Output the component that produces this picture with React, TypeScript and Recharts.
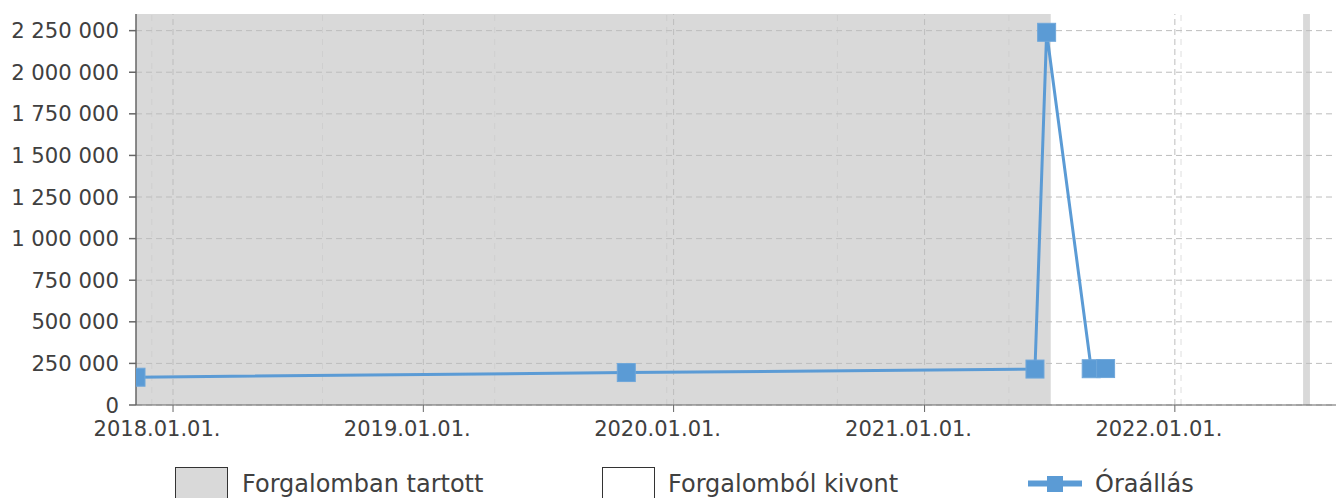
import React from "react";
import {
  Line,
  LineChart,
  ReferenceArea,
  ReferenceLine,
  XAxis,
  YAxis,
} from "recharts";

// meter readings (date, value)
const readingDates = [
  "2017-11-08",
  "2019-10-24",
  "2021-06-11",
  "2021-06-28",
  "2021-09-01",
  "2021-09-22",
];
const readingValues = [167000, 195000, 216000, 2240000, 218000, 219000];

// periods the vehicle was in service (grey bands)
const inServiceStarts = ["2017-11-08", "2022-07-07"];
const inServiceEnds = ["2021-07-04", "2022-07-17"];

const yearTicks = [
  "2018-01-01",
  "2019-01-01",
  "2020-01-01",
  "2021-01-01",
  "2022-01-01",
];
const minorGridDates = [
  "2017-12-01",
  "2018-08-07",
  "2019-04-15",
  "2019-12-22",
  "2020-08-27",
  "2021-05-04",
  "2022-01-10",
];
const valueTicks = [
  0, 250000, 500000, 750000, 1000000, 1250000, 1500000, 1750000, 2000000,
  2250000,
];
const xStart = "2017-11-08";
const xEnd = "2022-08-24";
const yMax = 2350000;

const toTs = (d: string) => {
  const [y, m, day] = d.split("-").map(Number);
  return Date.UTC(y, m - 1, day);
};

const data = readingDates.map((d, i) => ({ t: toTs(d), value: readingValues[i] }));

const pad = (n: number) => String(n).padStart(2, "0");
const fmtDate = (ts: number) => {
  const d = new Date(ts);
  return `${d.getUTCFullYear()}.${pad(d.getUTCMonth() + 1)}.${pad(d.getUTCDate())}.`;
};
const fmtNum = (n: number) => String(n).replace(/\B(?=(\d{3})+(?!\d))/g, " ");

const BLUE = "#5b9bd5";
const GREY = "#d9d9d9";
const TEXT = "#404040";
const GRID = "#bdbdbd";
const FONT = "'DejaVu Sans', sans-serif";

const SquareDot = (props: any) => {
  const { cx, cy, index } = props;
  if (cx == null || cy == null) return <g key={`d${index}`} />;
  return (
    <rect
      key={`d${index}`}
      x={cx - 9}
      y={cy - 9}
      width={18}
      height={18}
      fill={BLUE}
      stroke="#6fa7da"
      strokeWidth={1}
    />
  );
};

// date labels sit a little left of their tick, like the original
const DateTick = (props: any) => {
  const { x, y, payload } = props;
  return (
    <text
      x={x - 16}
      y={y}
      dy="0.71em"
      textAnchor="middle"
      fill={TEXT}
      fontSize={21}
      fontFamily={FONT}
    >
      {fmtDate(payload.value)}
    </text>
  );
};

function LegendRow() {
  const label = { position: "absolute" as const, fontSize: 24, color: TEXT, fontFamily: FONT, top: 470, lineHeight: "28px", whiteSpace: "nowrap" as const };
  return (
    <>
      <div style={{ position: "absolute", left: 175, top: 467, width: 53, height: 40, background: GREY, border: "1px solid #333", boxSizing: "border-box" }} />
      <div style={{ ...label, left: 242 }}>Forgalomban tartott</div>
      <div style={{ position: "absolute", left: 602, top: 467, width: 53, height: 40, background: "#fff", border: "1px solid #333", boxSizing: "border-box" }} />
      <div style={{ ...label, left: 668 }}>Forgalomból kivont</div>
      <svg style={{ position: "absolute", left: 1026, top: 470, overflow: "visible" }} width={58} height={28}>
        <line x1={2} y1={13.5} x2={56} y2={13.5} stroke={BLUE} strokeWidth={6} />
        <rect x={21} y={6} width={16} height={16} fill={BLUE} />
      </svg>
      <div style={{ ...label, left: 1095 }}>Óraállás</div>
    </>
  );
}

export default function App() {
  return (
    <div style={{ position: "absolute", left: 0, top: 0, width: 1337, height: 498, overflow: "hidden", background: "#fff" }}>
      <LineChart
        width={1337}
        height={498}
        data={data}
        margin={{ top: 14, right: 1, bottom: 63, left: 0 }}
      >
        {inServiceStarts.map((s, i) => (
          <ReferenceArea
            key={`band${i}`}
            x1={toTs(s)}
            x2={toTs(inServiceEnds[i])}
            fill={GREY}
            fillOpacity={1}
            stroke="none"
            ifOverflow="hidden"
          />
        ))}
        {minorGridDates.map((d) => (
          <ReferenceLine
            key={d}
            x={toTs(d)}
            stroke="#c8c8c8"
            strokeDasharray="6 6"
            strokeWidth={1}
            strokeOpacity={0.6}
          />
        ))}
        {yearTicks.map((d) => (
          <ReferenceLine
            key={`yr${d}`}
            x={toTs(d)}
            stroke={GRID}
            strokeDasharray="6 4"
            strokeWidth={1}
          />
        ))}
        {valueTicks.map((v) => (
          <ReferenceLine
            key={`v${v}`}
            y={v}
            stroke={GRID}
            strokeDasharray="6 4"
            strokeWidth={1}
          />
        ))}
        <XAxis
          dataKey="t"
          type="number"
          scale="time"
          domain={[toTs(xStart), toTs(xEnd)]}
          allowDataOverflow
          ticks={yearTicks.map(toTs)}
          tickFormatter={fmtDate}
          height={30}
          tickSize={7}
          tickMargin={9}
          stroke="#666"
          tick={DateTick}
        />
        <YAxis
          type="number"
          domain={[0, yMax]}
          allowDataOverflow
          ticks={valueTicks}
          tickFormatter={fmtNum}
          width={136}
          tickSize={7}
          tickMargin={10}
          stroke="#666"
          strokeWidth={1.5}
          tick={{ fill: TEXT, fontSize: 21.2, fontFamily: FONT }}
        />
        <Line
          dataKey="value"
          stroke={BLUE}
          strokeWidth={3}
          dot={SquareDot}
          activeDot={false}
          isAnimationActive={false}
        />
      </LineChart>
      <LegendRow />
    </div>
  );
}
